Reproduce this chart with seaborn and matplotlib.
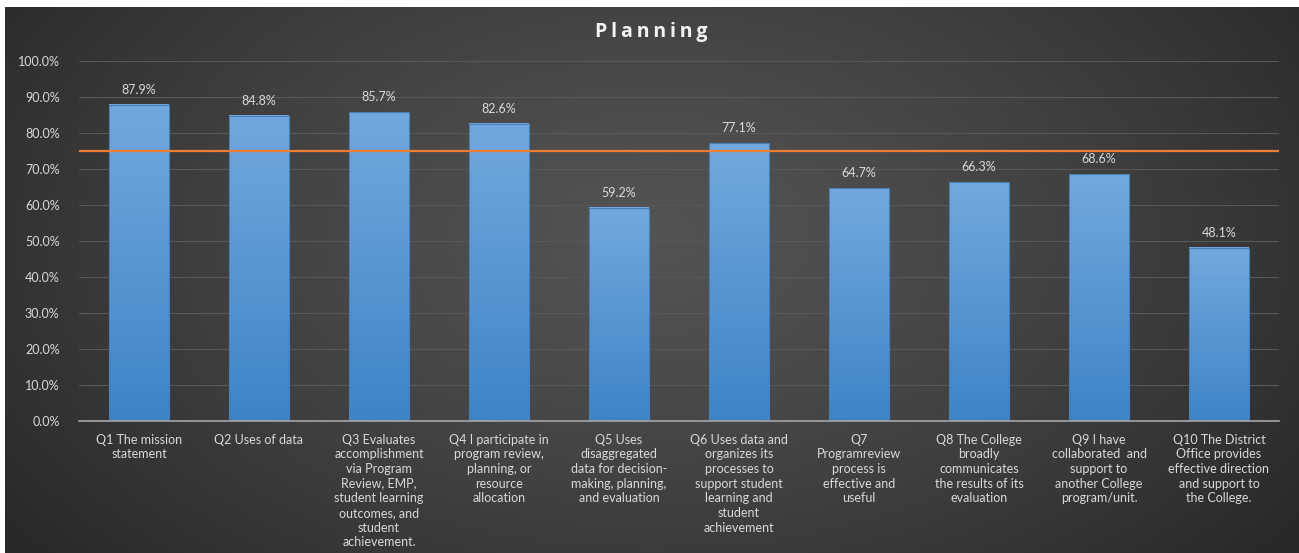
import numpy as np
import pandas as pd
import matplotlib
matplotlib.use("Agg")
import matplotlib.pyplot as plt
import seaborn as sns

categories = [
    "Q1 The mission\nstatement",
    "Q2 Uses of data",
    "Q3 Evaluates\naccomplishment\nvia Program\nReview, EMP,\nstudent learning\noutcomes, and\nstudent\nachievement.",
    "Q4 I participate in\nprogram review,\nplanning, or\nresource\nallocation",
    "Q5 Uses\ndisaggregated\ndata for decision-\nmaking, planning,\nand evaluation",
    "Q6 Uses data and\norganizes its\nprocesses to\nsupport student\nlearning and\nstudent\nachievement",
    "Q7\nProgramreview\nprocess is\neffective and\nuseful",
    "Q8 The College\nbroadly\ncommunicates\nthe results of its\nevaluation",
    "Q9 I have\ncollaborated  and\nsupport to\nanother College\nprogram/unit.",
    "Q10 The District\nOffice provides\neffective direction\nand support to\nthe College.",
]
values = [0.879, 0.848, 0.857, 0.826, 0.592, 0.771, 0.647, 0.663, 0.686, 0.481]
target = 0.75
yticks = [0.0, 0.1, 0.2, 0.3, 0.4, 0.5, 0.6, 0.7, 0.8, 0.9, 1.0]
title = "Planning"

sns.set_theme(style="white")
plt.rcParams["font.family"] = ["Lato", "DejaVu Sans"]

W, H = 1299, 553
fig = plt.figure(figsize=(W / 100, H / 100), dpi=100)
fig.patch.set_facecolor("white")

# background gradient panel
bg = fig.add_axes([5 / W, 0, 1 - 5 / W, (H - 7) / H], zorder=0)
ny, nx = 300, 700
yy, xx = np.mgrid[0:ny, 0:nx]
cx, cy = nx * 0.5, ny * 0.42
r = np.sqrt(((xx - cx) / (nx * 0.62)) ** 2 + ((yy - cy) / (ny * 0.9)) ** 2)
r = np.clip(r, 0, 1)
c = 0.325 - (0.325 - 0.16) * r ** 1.3
img = np.dstack([c, c, c])
bg.imshow(img, aspect="auto", extent=[0, 1, 0, 1], origin="upper")
bg.set_axis_off()

ax = fig.add_axes([79 / W, 132 / H, 1200 / W, (492 - 132) / H], zorder=1)
ax.patch.set_alpha(0)

df = pd.DataFrame({"cat": categories, "val": values})
sns.barplot(data=df, x="cat", y="val", ax=ax, width=0.5, color="#5b9bd5",
            edgecolor="#4a7fb5", linewidth=0.8, zorder=3)

# gradient fill on bars
grad = np.linspace(0, 1, 100).reshape(-1, 1)
top = np.array([0.45, 0.66, 0.87])
bot = np.array([0.24, 0.52, 0.78])
gimg = top[None, None, :] * (1 - grad[:, :, None]) + bot[None, None, :] * grad[:, :, None]
for p in ax.patches:
    x0, w, h = p.get_x(), p.get_width(), p.get_height()
    ax.imshow(gimg, extent=[x0, x0 + w, 0, h], aspect="auto", origin="upper", zorder=3.5)
    p.set_facecolor("none")
    p.set_zorder(4)
    ax.text(x0 + w / 2, h + 0.025, f"{h*100:.1f}%", ha="center", va="bottom",
            color="#d9d9d9", fontsize=9, zorder=5)

ax.axhline(target, color="#ed7d31", lw=1.6, zorder=6)

ax.set_xlim(-0.5, len(categories) - 0.5)
ax.set_ylim(0, 1.0)
ax.set_yticks(yticks)
ax.set_yticklabels([f"{t*100:.1f}%" for t in yticks], color="#d9d9d9", fontsize=9)
ax.tick_params(axis="y", length=0, pad=14)
ax.tick_params(axis="x", length=0, pad=9)
for lab in ax.get_xticklabels():
    lab.set_color("#d9d9d9")
    lab.set_fontsize(9)
    lab.set_linespacing(1.27)
    lab.set_va("top")
ax.set_xlabel("")
ax.set_ylabel("")
ax.grid(axis="y", color="#585858", lw=0.8, zorder=0)
ax.set_axisbelow(True)
for s in ["top", "right", "left"]:
    ax.spines[s].set_visible(False)
ax.spines["bottom"].set_color("#a6a6a6")
ax.spines["bottom"].set_linewidth(1.2)
ax.spines["bottom"].set_zorder(7)

fig.text(651 / W, 1 - 32 / H, "\u2009".join(title), ha="center", va="center", color="#f2f2f2",
         fontsize=14, fontweight="bold", family=["Open Sans", "DejaVu Sans"])

fig.savefig("out.png", dpi=100)
